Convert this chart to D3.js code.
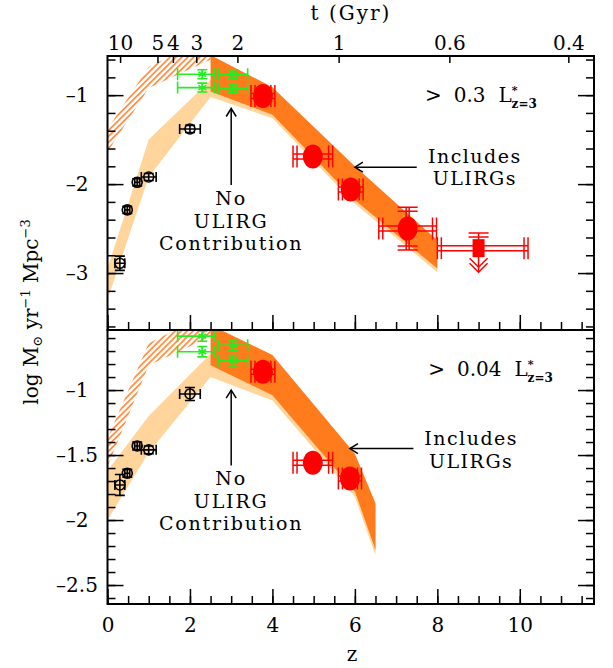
<!DOCTYPE html>
<html>
<head>
<meta charset="utf-8">
<script src="https://cdn.jsdelivr.net/npm/d3@7"></script>
<style>
  body { margin: 0; background: #fff; }
  text { font-family: "DejaVu Serif", serif; fill: #000; }
</style>
</head>
<body>
<svg id="chart" width="613" height="668"></svg>
<script>
// ---- shared redshift axis and cosmic-time ticks ----
const zDomain = [0, 11.8];
const zMajorTicks = [0, 2, 4, 6, 8, 10];
const ageTicks = [10, 5, 4, 3, 2, 1, 0.6, 0.4];
const ageTickLabels = ["10", "5", "4", "3", "2", "1", "0.6", "0.4"];

// ---- upper panel: > 0.3 L*(z=3) ----
const topYDomain = [-3.64, -0.56];
const topYTicks = [-1, -2, -3];
const topYTickLabels = ["\u20131", "\u20132", "\u20133"];
// bands: [z, lower, upper]
const topNoUlirgBand = [[0, -3.30, -2.95], [1, -1.92, -1.50], [2.5, -1.02, -0.83], [4, -1.26, -0.95], [6, -2.22, -1.85], [8, -2.99, -2.66]];
const topUlirgBand = [[2.5, -0.96, -0.55], [4, -1.22, -0.91], [6, -2.18, -1.80], [8, -2.95, -2.63]];
const topHatchBand = [[0, -1.64, -1.38], [1, -0.92, -0.68], [2.5, -0.60, -0.35]];
// black points: [z, value, zErr, valueErr]
const topBlack = [[0.30, -2.89, 0.12, 0.08], [0.48, -2.29, 0.06, 0.04], [0.72, -1.98, 0.06, 0.04], [1.00, -1.92, 0.18, 0.04], [2.00, -1.38, 0.25, 0.04]];
// green points: [z, value, zErrLow, zErrHigh, valueErr]
const topGreen = [[2.30, -0.765, 0.60, 0.30, 0.05], [2.30, -0.915, 0.60, 0.30, 0.05], [3.05, -0.765, 0.35, 0.35, 0.05], [3.05, -0.925, 0.35, 0.35, 0.05]];
// red points: [z, value, zErr, valueErr]
const topRed = [[3.77, -1.01, 0.29, 0], [4.98, -1.69, 0.48, 0], [5.90, -2.06, 0.30, 0], [7.28, -2.50, 0.70, 0.24]];
// red upper limits: [z, value, zErrLow, zErrHigh, valueErrUp, arrowTo]
const topRedLimit = [[9.0, -2.72, 1.0, 1.2, 0.17, -2.99]];

// ---- lower panel: > 0.04 L*(z=3) ----
const botYDomain = [-2.646, -0.538];
const botYTicks = [-1, -1.5, -2, -2.5];
const botYTickLabels = ["\u20131", "\u20131.5", "\u20132", "\u20132.5"];
const botNoUlirgBand = [[0, -2.00, -1.62], [1, -1.48, -1.20], [2.5, -0.90, -0.72], [4, -1.08, -0.75], [6, -1.82, -1.50], [6.5, -2.27, -1.88]];
const botUlirgBand = [[2.5, -0.81, -0.50], [4, -1.04, -0.73], [6, -1.78, -1.49], [6.5, -2.23, -1.87]];
const botHatchBand = [[0, -1.59, -1.37], [1, -0.81, -0.64], [2.5, -0.59, -0.40]];
const botBlack = [[0.30, -1.73, 0.12, 0.08], [0.48, -1.64, 0.06, 0.03], [0.72, -1.43, 0.06, 0.03], [1.00, -1.46, 0.18, 0.03], [2.00, -1.03, 0.25, 0.05]];
const botGreen = [[2.30, -0.585, 0.60, 0.30, 0.04], [2.30, -0.705, 0.60, 0.30, 0.04], [3.05, -0.655, 0.35, 0.35, 0.04], [3.05, -0.775, 0.35, 0.35, 0.04]];
const botRed = [[3.77, -0.86, 0.29, 0], [4.98, -1.56, 0.48, 0], [5.88, -1.68, 0.28, 0]];
const botRedLimit = [];

// ---- colours ----
const colNoUlirg = "#FFD59C";
const colUlirg = "#FF7B1C";
const colHatch = "#FF7F2A";
const colRed = "#FF0000";
const colGreen = "#22EE22";

// flat LCDM (H0=70, Om=0.3, OL=0.7): redshift at which the universe has age t (Gyr)
function zFromAge(t) {
  const H0 = 70 / 977.8, OL = 0.7, Om = 0.3;
  const s = Math.sinh(1.5 * H0 * Math.sqrt(OL) * t);
  return Math.pow(Math.sqrt(OL / Om) / s, 2 / 3) - 1;
}

const svg = d3.select("#chart");
const left = 107.5, right = 594;
const x = d3.scaleLinear().domain(zDomain).range([left, right]);

const defs = svg.append("defs");
defs.append("pattern")
  .attr("id", "hatch").attr("patternUnits", "userSpaceOnUse")
  .attr("width", 4.2).attr("height", 4.2)
  .attr("patternTransform", "rotate(45)")
  .append("line")
  .attr("x1", 1).attr("y1", 0).attr("x2", 1).attr("y2", 4.2)
  .attr("stroke", colHatch).attr("stroke-width", 1.6);

const panels = [
  {
    id: "top", top: 56, bottom: 330, domain: topYDomain,
    ticks: topYTicks, tickLabels: topYTickLabels,
    minor: d3.range(-18, -2).map(k => k * 0.2),
    noUlirg: topNoUlirgBand, ulirg: topUlirgBand, hatch: topHatchBand,
    black: topBlack, green: topGreen, red: topRed, limits: topRedLimit,
    lum: { z: 7.70, v: -1.079, text: "0.3" },
    incl: { z: 8.91, v: -1.76, tip: [6.0, -1.81], tail: 7.5 },
    noUl: { z: 3.0, v: -2.236, tip: -1.15, tail: -2.01 },
    labels: false
  },
  {
    id: "bot", top: 330, bottom: 604, domain: botYDomain,
    ticks: botYTicks, tickLabels: botYTickLabels,
    minor: d3.range(-26, -5).map(k => k / 10),
    noUlirg: botNoUlirgBand, ulirg: botUlirgBand, hatch: botHatchBand,
    black: botBlack, green: botGreen, red: botRed, limits: botRedLimit,
    lum: { z: 7.78, v: -0.892, text: "0.04" },
    incl: { z: 8.82, v: -1.423, tip: [5.88, -1.45], tail: 7.42 },
    noUl: { z: 3.0, v: -1.731, tip: -1.0, tail: -1.58 },
    labels: true
  }
];

panels.forEach(p => {
  const y = d3.scaleLinear().domain(p.domain).range([p.bottom, p.top]);
  defs.append("clipPath").attr("id", "clip-" + p.id)
    .append("rect").attr("x", left).attr("y", p.top)
    .attr("width", right - left).attr("height", p.bottom - p.top);

  const g = svg.append("g");
  const plot = g.append("g").attr("clip-path", `url(#clip-${p.id})`);

  const band = d3.area().x(d => x(d[0])).y0(d => y(d[1])).y1(d => y(d[2]));
  plot.append("path").attr("d", band(p.noUlirg)).attr("fill", colNoUlirg);
  plot.append("path").attr("d", band(p.hatch)).attr("fill", "url(#hatch)");
  plot.append("path").attr("d", band(p.ulirg)).attr("fill", colUlirg);

  // black points: circle with cross, error bars with caps
  p.black.forEach(d => {
    const cx = x(d[0]), cy = y(d[1]);
    const xl = x(d[0] - d[2]), xr = x(d[0] + d[2]);
    const yt = y(d[1] + d[3]), yb = y(d[1] - d[3]);
    const k = plot.append("g").attr("stroke", "#000").attr("stroke-width", 1.6).attr("fill", "none");
    k.append("line").attr("x1", xl).attr("x2", xr).attr("y1", cy).attr("y2", cy);
    k.append("line").attr("x1", xl).attr("x2", xl).attr("y1", cy - 5).attr("y2", cy + 5);
    k.append("line").attr("x1", xr).attr("x2", xr).attr("y1", cy - 5).attr("y2", cy + 5);
    k.append("line").attr("x1", cx).attr("x2", cx).attr("y1", yt).attr("y2", yb);
    k.append("line").attr("x1", cx - 5).attr("x2", cx + 5).attr("y1", yt).attr("y2", yt);
    k.append("line").attr("x1", cx - 5).attr("x2", cx + 5).attr("y1", yb).attr("y2", yb);
    k.append("circle").attr("cx", cx).attr("cy", cy).attr("r", 5);
  });

  // green points: asterisk with error bars
  p.green.forEach(d => {
    const cx = x(d[0]), cy = y(d[1]);
    const xl = x(d[0] - d[2]), xr = x(d[0] + d[3]);
    const yt = y(d[1] + d[4]), yb = y(d[1] - d[4]);
    const k = plot.append("g").attr("stroke", colGreen).attr("stroke-width", 1.6).attr("fill", "none");
    k.append("line").attr("x1", xl).attr("x2", xr).attr("y1", cy).attr("y2", cy);
    k.append("line").attr("x1", xl).attr("x2", xl).attr("y1", cy - 6).attr("y2", cy + 6);
    k.append("line").attr("x1", xr).attr("x2", xr).attr("y1", cy - 6).attr("y2", cy + 6);
    k.append("line").attr("x1", cx).attr("x2", cx).attr("y1", yt).attr("y2", yb);
    k.append("line").attr("x1", cx - 5).attr("x2", cx + 5).attr("y1", yt).attr("y2", yt);
    k.append("line").attr("x1", cx - 5).attr("x2", cx + 5).attr("y1", yb).attr("y2", yb);
    [30, 90, 150].forEach(a => {
      const r = a * Math.PI / 180;
      k.append("line")
        .attr("x1", cx - 4.5 * Math.cos(r)).attr("y1", cy - 4.5 * Math.sin(r))
        .attr("x2", cx + 4.5 * Math.cos(r)).attr("y2", cy + 4.5 * Math.sin(r));
    });
  });

  // red points: filled ellipse with doubled error bars
  function redBars(k, cx, cy, xl, xr) {
    [-2.5, 2.5].forEach(o => k.append("line").attr("x1", xl).attr("x2", xr).attr("y1", cy + o).attr("y2", cy + o));
    [xl, xl + 4, xr - 4, xr].forEach(xx =>
      k.append("line").attr("x1", xx).attr("x2", xx).attr("y1", cy - 11).attr("y2", cy + 11));
  }
  p.red.forEach(d => {
    const cx = x(d[0]), cy = y(d[1]);
    const k = plot.append("g").attr("stroke", colRed).attr("stroke-width", 1.5).attr("fill", "none");
    redBars(k, cx, cy, x(d[0] - d[2]), x(d[0] + d[2]));
    if (d[3] > 0) {
      const yt = y(d[1] + d[3]), yb = y(d[1] - d[3]);
      [-1.5, 1.5].forEach(o => k.append("line").attr("x1", cx + o).attr("x2", cx + o).attr("y1", yt).attr("y2", yb));
      [yt, yt + 4, yb - 4, yb].forEach(yy =>
        k.append("line").attr("x1", cx - 10).attr("x2", cx + 10).attr("y1", yy).attr("y2", yy));
    }
    plot.append("ellipse").attr("cx", cx).attr("cy", cy).attr("rx", 10).attr("ry", 12).attr("fill", colRed);
  });
  p.limits.forEach(d => {
    const cx = x(d[0]), cy = y(d[1]);
    const k = plot.append("g").attr("stroke", colRed).attr("stroke-width", 1.5).attr("fill", "none");
    redBars(k, cx, cy, x(d[0] - d[2]), x(d[0] + d[3]));
    const yt = y(d[1] + d[4]), ya = y(d[5]);
    k.append("line").attr("x1", cx).attr("x2", cx).attr("y1", yt).attr("y2", ya);
    [yt, yt + 4].forEach(yy =>
      k.append("line").attr("x1", cx - 10).attr("x2", cx + 10).attr("y1", yy).attr("y2", yy));
    [0, -5].forEach(o =>
      k.append("path").attr("d", `M${cx - 9},${ya + o - 9} L${cx},${ya + o} L${cx + 9},${ya + o - 9}`));
    plot.append("rect").attr("x", cx - 6).attr("y", cy - 9).attr("width", 12).attr("height", 18).attr("fill", colRed);
  });

  // annotations
  const ann = g.append("g").style("font-size", "20px");
  const lt = ann.append("text").attr("x", x(p.lum.z)).attr("y", y(p.lum.v));
  lt.append("tspan").text(">");
  lt.append("tspan").attr("dx", 12).text(p.lum.text);
  lt.append("tspan").attr("dx", 13).text("L");
  lt.append("tspan").attr("dy", -8).style("font-size", "11px").style("font-weight", "bold").text("*");
  lt.append("tspan").attr("dx", -6).attr("dy", 14).style("font-size", "12px").style("font-weight", "bold").text("z=3");

  const ix = x(p.incl.z), iy = y(p.incl.v);
  ann.append("text").attr("x", ix).attr("y", iy).attr("text-anchor", "middle")
    .style("font-size", "19px").style("letter-spacing", "1.5px").text("Includes");
  ann.append("text").attr("x", ix).attr("y", iy + 22.5).attr("text-anchor", "middle")
    .style("font-size", "19px").style("letter-spacing", "1.5px").text("ULIRGs");
  const tipX = x(p.incl.tip[0]), tipY = y(p.incl.tip[1]);
  const ar = ann.append("g").attr("stroke", "#000").attr("stroke-width", 1.5).attr("fill", "none");
  ar.append("line").attr("x1", x(p.incl.tail)).attr("x2", tipX).attr("y1", tipY).attr("y2", tipY);
  ar.append("path").attr("d", `M${tipX + 8},${tipY - 5} L${tipX},${tipY} L${tipX + 8},${tipY + 5}`);

  const nx = x(p.noUl.z), ny = y(p.noUl.v);
  ["No", "ULIRG", "Contribution"].forEach((s, i) =>
    ann.append("text").attr("x", nx).attr("y", ny + i * 22.5).attr("text-anchor", "middle")
      .style("font-size", "19px").style("letter-spacing", "1.8px").text(s));
  const vt = y(p.noUl.tip);
  ar.append("line").attr("x1", nx).attr("x2", nx).attr("y1", y(p.noUl.tail)).attr("y2", vt);
  ar.append("path").attr("d", `M${nx - 5},${vt + 8} L${nx},${vt} L${nx + 5},${vt + 8}`);

  // axes: inward ticks on all four sides
  const axes = g.append("g");
  const yMinor = p.minor.filter(v => v >= p.domain[0] && v <= p.domain[1]);
  axes.append("g").attr("transform", `translate(${left},0)`)
    .call(d3.axisLeft(y).tickValues(yMinor).tickSize(-8).tickFormat(""));
  axes.append("g").attr("transform", `translate(${left},0)`)
    .call(d3.axisLeft(y).tickValues(p.ticks).tickSize(-16).tickPadding(30.5)
      .tickFormat((d, i) => p.tickLabels[i]))
    .call(a => a.selectAll("text").attr("text-anchor", "middle"));
  axes.append("g").attr("transform", `translate(${right},0)`)
    .call(d3.axisRight(y).tickValues(yMinor).tickSize(-8).tickFormat(""));
  axes.append("g").attr("transform", `translate(${right},0)`)
    .call(d3.axisRight(y).tickValues(p.ticks).tickSize(-16).tickFormat(""));

  const zMinor = d3.range(0, 24).map(k => k * 0.5);
  axes.append("g").attr("transform", `translate(0,${p.bottom})`)
    .call(d3.axisBottom(x).tickValues(zMinor).tickSize(-8).tickFormat(""));
  axes.append("g").attr("transform", `translate(0,${p.bottom})`)
    .call(d3.axisBottom(x).tickValues(zMajorTicks).tickSize(-15).tickPadding(14)
      .tickFormat(p.labels ? d3.format("d") : ""));

  axes.selectAll(".domain").remove();
  axes.selectAll("line").attr("stroke", "#000").attr("stroke-width", 1.5);
  axes.selectAll("text").attr("fill", "#000")
    .style("font-family", "DejaVu Serif").style("font-size", "20px");

  g.append("rect").attr("x", left).attr("y", p.top)
    .attr("width", right - left).attr("height", p.bottom - p.top)
    .attr("fill", "none").attr("stroke", "#000").attr("stroke-width", 2);
});

// cosmic time along the top
const topAxis = svg.append("g").attr("transform", "translate(0,56)")
  .call(d3.axisTop(x).tickValues(ageTicks.map(zFromAge)).tickSize(-7).tickPadding(6)
    .tickFormat((d, i) => ageTickLabels[i]));
topAxis.select(".domain").remove();
topAxis.selectAll("line").attr("stroke", "#000").attr("stroke-width", 1.5);
topAxis.selectAll("text").attr("fill", "#000")
  .style("font-family", "DejaVu Serif").style("font-size", "20px");

svg.append("text").attr("x", 351).attr("y", 20).attr("text-anchor", "middle")
  .style("font-size", "20px").style("letter-spacing", "2px").text("t (Gyr)");
svg.append("text").attr("x", 352).attr("y", 661).attr("text-anchor", "middle")
  .style("font-size", "20px").text("z");

const yl = svg.append("text").attr("transform", "translate(38,312) rotate(-90)")
  .attr("text-anchor", "middle").style("font-size", "20px");
yl.append("tspan").text("log M");
yl.append("tspan").attr("dy", 4).style("font-size", "13px").text("\u2299");
yl.append("tspan").attr("dy", -4).text(" yr");
yl.append("tspan").attr("dy", -8).style("font-size", "13px").text("\u22121");
yl.append("tspan").attr("dy", 8).text(" Mpc");
yl.append("tspan").attr("dy", -8).style("font-size", "13px").text("\u22123");
</script>
</body>
</html>
